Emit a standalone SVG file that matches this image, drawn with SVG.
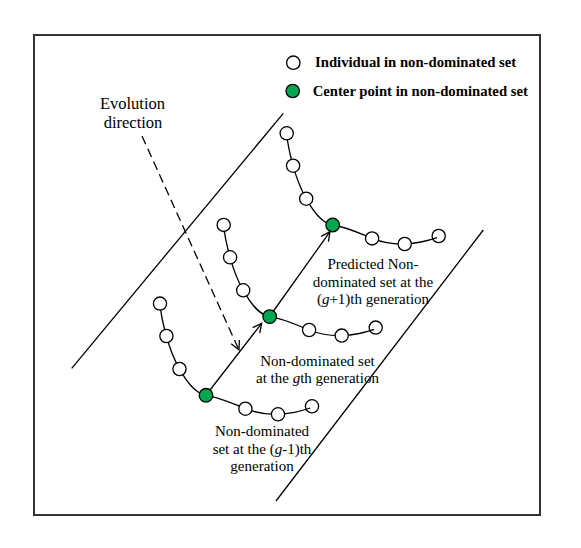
<svg xmlns="http://www.w3.org/2000/svg" xmlns:xlink="http://www.w3.org/1999/xlink" width="581" height="548" viewBox="0 0 581 548">
<style>
.ln{fill:none;stroke:#000;stroke-width:1.3}
.ind{fill:#fff;stroke:#000;stroke-width:1.3}
.last{fill:none;stroke:#000;stroke-width:1.3}
.ctr{fill:#00A651;stroke:#000;stroke-width:1.3}
.lbl{font-family:"Liberation Serif","Times New Roman",serif;font-size:15px;fill:#000;text-anchor:middle}
.leg{font-family:"Liberation Serif","Times New Roman",serif;font-size:14.7px;font-weight:bold;fill:#000}
</style>
<defs>
<marker id="ah" markerWidth="12" markerHeight="12" refX="10" refY="5" orient="auto" markerUnits="userSpaceOnUse">
<path d="M1,0.5 L10,5 L1,9.5" fill="none" stroke="#000" stroke-width="1.3"/>
</marker>
<path id="front" d="M-46,-91.7 C-45,-78 -42,-68 -39.6,-59.3 C-36,-46 -32,-36 -26.5,-26.3 C-19,-13 -11,-2 0,0 C14,2 26,8 39.4,13.4 C50,17.5 60,19.5 72,19 C84,18.5 95,16 104.3,12.7"/>
<g id="frontset">
<use xlink:href="#front" class="ln"/>
<circle class="ind" cx="-46" cy="-91.7" r="6.6"/>
<circle class="ind" cx="-39.6" cy="-59.3" r="6.6"/>
<circle class="ind" cx="-26.5" cy="-26.3" r="6.6"/>
<circle class="ind" cx="39.4" cy="13.4" r="6.6"/>
<circle class="ind" cx="72" cy="19" r="6.6"/>
<circle class="last" cx="106" cy="11" r="6.6"/>
<circle class="ctr" cx="0" cy="0" r="6.8"/>
</g>
</defs>
<rect x="34" y="35" width="506" height="480" fill="#fff" stroke="#333" stroke-width="2"/>
<g id="legend">
<circle class="ind" cx="293.3" cy="62.7" r="6.7"/>
<text class="leg" x="315" y="67">Individual in non-dominated set</text>
<circle class="ctr" cx="292.7" cy="91" r="6.7"/>
<text class="leg" x="312.7" y="96">Center point in non-dominated set</text>
</g>
<g id="bounds">
<line class="ln" x1="71.7" y1="368.3" x2="283.3" y2="113.3"/>
<line class="ln" x1="276" y1="501" x2="483.3" y2="230"/>
</g>
<g id="set-g-1"><use xlink:href="#frontset" transform="translate(206,395.3)"/></g>
<g id="set-g"><use xlink:href="#frontset" transform="translate(269.7,316.6)"/></g>
<g id="set-g+1"><use xlink:href="#frontset" transform="translate(332.7,225)"/></g>
<g id="connectors">
<line class="ln" x1="210" y1="390" x2="261.7" y2="323.3" marker-end="url(#ah)"/>
<line class="ln" x1="273.5" y1="311" x2="330" y2="231.7" marker-end="url(#ah)"/>
<line class="ln" x1="142" y1="136" x2="239" y2="350" stroke-dasharray="9,5" marker-end="url(#ah)"/>
</g>
<g id="labels">
<text class="lbl" style="font-size:16.5px" x="132.5" y="109">Evolution</text>
<text class="lbl" style="font-size:16.5px" x="133" y="127.7">direction</text>
<text class="lbl" x="373" y="269">Predicted Non-</text>
<text class="lbl" x="373" y="286.5">dominated set at the</text>
<text class="lbl" x="373" y="303.5">(<tspan font-style="italic">g</tspan>+1)th generation</text>
<text class="lbl" x="317.5" y="366">Non-dominated set</text>
<text class="lbl" x="317.5" y="383">at the <tspan font-style="italic">g</tspan>th generation</text>
<text class="lbl" x="262" y="436">Non-dominated</text>
<text class="lbl" x="262" y="453.5">set at the (<tspan font-style="italic">g</tspan>-1)th</text>
<text class="lbl" x="262" y="471">generation</text>
</g>
</svg>
